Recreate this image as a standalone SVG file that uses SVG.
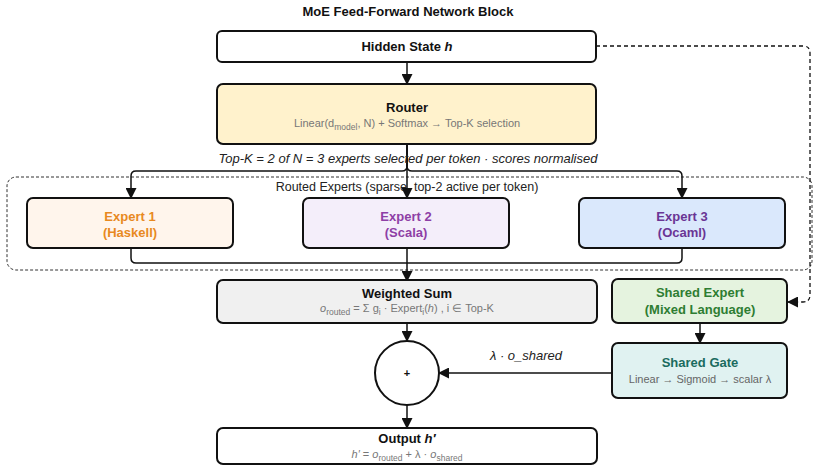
<svg xmlns="http://www.w3.org/2000/svg" width="820" height="471" viewBox="0 0 820 471">
<style>
text{font-family:"Liberation Sans",Arial,sans-serif;text-anchor:middle}
.t{font-size:13px;font-weight:bold;fill:#111}
.s{font-size:11px;fill:#777}
.sub{font-size:8.5px}
.box{stroke:#111;stroke-width:2}
.c{fill:none;stroke:#111;stroke-width:1.5}
.d{fill:none;stroke:#111;stroke-width:1.3;stroke-dasharray:4,3}
</style>
<defs>
<marker id="ah" markerWidth="11" markerHeight="11" refX="10" refY="5.5" orient="auto" markerUnits="userSpaceOnUse">
<path d="M0,0 L11,5.5 L0,11 z" fill="#111"/>
</marker>
</defs>
<rect width="820" height="471" fill="#fff"/>
<text x="408" y="16" class="t">MoE Feed-Forward Network Block</text>

<g id="routed-group">
<rect x="7" y="177" width="805" height="93" rx="9" fill="none" stroke="#333" stroke-width="1" stroke-dasharray="3,2"/>
<text x="407" y="191" style="font-size:12.5px;fill:#222">Routed Experts (sparse, top-2 active per token)</text>
</g>

<g id="connectors">
<path class="c" d="M407,62 V84" marker-end="url(#ah)"/>
<path class="c" d="M407,144 V198" marker-end="url(#ah)"/>
<path class="c" d="M407,144 V166 Q407,171 402,171 H136 Q131,171 131,176 V198" marker-end="url(#ah)"/>
<path class="c" d="M407,144 V166 Q407,171 412,171 H677 Q682,171 682,176 V198" marker-end="url(#ah)"/>
<path class="c" d="M131,248 V258 Q131,263 136,263 H407"/>
<path class="c" d="M682,248 V258 Q682,263 677,263 H407"/>
<path class="c" d="M407,248 V281" marker-end="url(#ah)"/>
<path class="c" d="M407,323 V341" marker-end="url(#ah)"/>
<path class="c" d="M407,405 V428" marker-end="url(#ah)"/>
<path class="c" d="M700,323 V343" marker-end="url(#ah)"/>
<path class="c" d="M613,373 H439" marker-end="url(#ah)"/>
<path class="d" d="M596,46 H803 Q810,46 810,53 V295 Q810,302 803,302 H788" marker-end="url(#ah)"/>
<text x="408" y="163" style="font-size:13px;font-style:italic;fill:#222">Top-K = 2 of N = 3 experts selected per token · scores normalised</text>
<text x="526" y="360" style="font-size:13px;font-style:italic;fill:#222">λ · o_shared</text>
</g>

<g id="hidden-state">
<rect class="box" x="217" y="31" width="379" height="31" rx="5" fill="#fff"/>
<text x="407" y="51" class="t">Hidden State <tspan font-style="italic">h</tspan></text>
</g>

<g id="router">
<rect class="box" x="217" y="84" width="379" height="60" rx="6" fill="#fff2cc"/>
<text x="407" y="112" class="t">Router</text>
<text x="407" y="127" class="s">Linear(d<tspan class="sub" baseline-shift="-3">model</tspan>, N) + Softmax → Top-K selection</text>
</g>

<g id="expert1">
<rect class="box" x="27" y="198" width="206" height="50" rx="6" fill="#fff5ec"/>
<text x="130" y="221" class="t" style="fill:#e8891f">Expert 1</text>
<text x="130" y="237" class="t" style="fill:#e8891f">(Haskell)</text>
</g>

<g id="expert2">
<rect class="box" x="303" y="198" width="206" height="50" rx="6" fill="#f4eefa"/>
<text x="406" y="221" class="t" style="fill:#8e3fa6">Expert 2</text>
<text x="406" y="237" class="t" style="fill:#8e3fa6">(Scala)</text>
</g>

<g id="expert3">
<rect class="box" x="579" y="198" width="206" height="50" rx="6" fill="#dae8fc"/>
<text x="682" y="221" class="t" style="fill:#6a3595">Expert 3</text>
<text x="682" y="237" class="t" style="fill:#6a3595">(Ocaml)</text>
</g>

<g id="weighted-sum">
<rect class="box" x="217" y="280" width="380" height="43" rx="6" fill="#f0f0f0"/>
<text x="407" y="298" class="t">Weighted Sum</text>
<text x="407" y="312" class="s"><tspan font-style="italic">o</tspan><tspan class="sub" baseline-shift="-3">routed</tspan> = Σ g<tspan class="sub" baseline-shift="-3">i</tspan> · Expert<tspan class="sub" baseline-shift="-3">i</tspan>(<tspan font-style="italic">h</tspan>) , i ∈ Top-K</text>
</g>

<g id="sum-node">
<circle cx="407" cy="373" r="32" fill="#fff" stroke="#111" stroke-width="2"/>
<text x="407" y="377" class="t" style="font-size:11px">+</text>
</g>

<g id="output">
<rect class="box" x="217" y="428" width="380" height="36" rx="6" fill="#fff"/>
<text x="407" y="443" class="t">Output <tspan font-style="italic">h′</tspan></text>
<text x="407" y="458" class="s"><tspan font-style="italic">h′</tspan> = <tspan font-style="italic">o</tspan><tspan class="sub" baseline-shift="-2.5">routed</tspan> + λ · <tspan font-style="italic">o</tspan><tspan class="sub" baseline-shift="-2.5">shared</tspan></text>
</g>

<g id="shared-expert">
<rect class="box" x="612" y="279" width="175" height="44" rx="6" fill="#e5f3df"/>
<text x="700" y="297" class="t" style="fill:#2e7d32">Shared Expert</text>
<text x="700" y="314" class="t" style="fill:#2e7d32">(Mixed Language)</text>
</g>

<g id="shared-gate">
<rect class="box" x="612" y="343" width="175" height="55" rx="6" fill="#e0f2f1"/>
<text x="700" y="367" class="t" style="fill:#1b6b5e">Shared Gate</text>
<text x="700" y="383" class="s" style="fill:#666">Linear → Sigmoid → scalar λ</text>
</g>
</svg>
